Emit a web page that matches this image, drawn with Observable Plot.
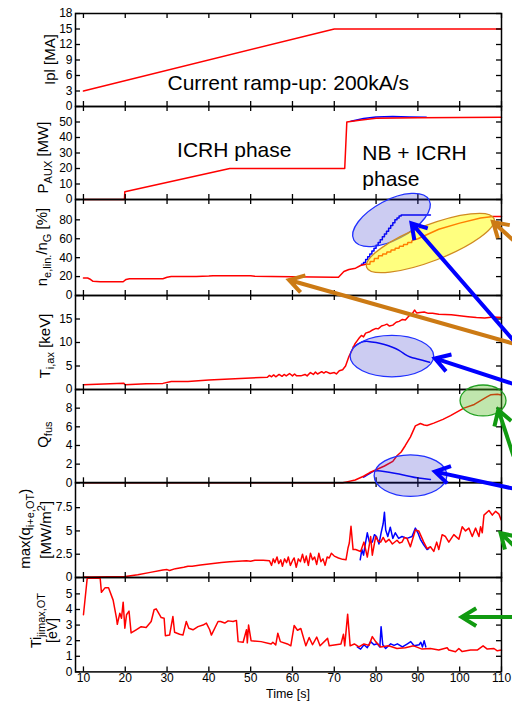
<!DOCTYPE html>
<html><head><meta charset="utf-8">
<script src="https://cdn.jsdelivr.net/npm/d3@7"></script>
<script src="https://cdn.jsdelivr.net/npm/@observablehq/plot@0.6"></script>
<style>
body{margin:0;background:#fff;}
#fig{position:relative;width:512px;height:706px;overflow:hidden;font-family:"Liberation Sans",Arial,sans-serif;background:#fff;}
</style></head><body><div id="fig"></div><script>
// ---------------- DATA ----------------
const xTicks = [10,20,30,40,50,60,70,80,90,100,110];

// Panel 1: plasma current
const ipTicks = [0,3,6,9,12,15,18];
const ipTime = [10, 70, 110];
const ipVal  = [3, 15, 15];

// Panel 2: auxiliary power
const pauxTicks = [0,10,20,30,40,50];
const pauxTime = [10, 19.8, 19.9, 45, 72.5, 73, 76, 80, 90, 110];
const pauxVal  = [0, 0, 5, 20, 20, 50, 51.2, 52.4, 52.8, 53];
const pauxBlueTime = [74, 77, 80, 84, 88, 92];
const pauxBlueVal  = [50.5, 52.3, 53.3, 53.5, 53.3, 53];

// Panel 3: Greenwald fraction
const neTicks = [0,20,40,60,80];
const neTime = [10, 11, 11.5, 12.3, 14, 19.5, 20.2, 21, 29, 30, 31, 37, 40, 41, 50, 51, 55, 60, 65, 70, 71, 72.3, 73.5, 75.1, 76.3, 77.5,
  78.5, 78.6, 79.5, 79.6, 80.5, 80.6, 81.5, 81.6, 82.5, 82.6, 83.5, 83.6, 84.5, 84.6, 85.5, 85.6, 86.5, 86.6, 87.5, 87.6, 88.5, 88.6, 90, 95, 100, 105, 108, 110];
const neVal  = [18.5, 18.5, 17.5, 15, 14.5, 14.5, 17, 17.8, 17.8, 19.3, 20.2, 20, 20.5, 21, 20.8, 20.3, 20, 19.8, 19.5, 19.2, 19.4, 25.4, 27.5, 28.9, 31.7, 33,
  33, 36, 36, 39, 39, 42, 42, 44, 44, 46, 46, 48, 48, 50, 50, 52, 52, 54, 54, 56, 56, 58, 60, 70, 76.5, 82, 83.5, 83.5];
const neBlueTime = [76.5, 77, 77.5, 78, 78.5, 79, 79.5, 80, 80.5, 81, 81.5, 82, 82.5, 83, 83.5, 84, 84.5, 85, 85.5, 86, 93];
const neBlueVal  = [33, 35, 38, 41, 44, 47, 50, 53, 56, 59, 62, 65, 68, 71, 74, 77, 80, 82, 84, 85, 85];

// Panel 4: axial ion temperature
const tiTicks = [0,5,10,15];
const tiTime = [10, 19.6, 20, 25, 29, 31, 35, 40, 45, 50, 54, 54.5, 55, 55.5, 56, 56.8, 57.5, 58, 58.5, 59.3, 60, 60.5, 61, 62, 63, 63.5, 64.3, 65, 65.5, 66, 67, 67.5, 68, 69, 70, 70.5, 71.2, 72, 72.7, 73.5, 74.3, 75, 75.5, 76, 76.5, 77, 77.5, 78.5, 79, 80, 80.5, 81.3, 82, 82.6, 83.2, 84, 84.8, 85.5, 86.3, 87, 87.8, 88.5, 89.2, 89.7, 90.5, 91.5, 92.5, 93.5, 95, 98, 100, 102, 104, 106, 108, 110];
const tiVal  = [1.0, 1.35, 1.0, 1.2, 1.3, 1.7, 1.7, 2.0, 2.25, 2.45, 2.6, 3.0, 2.7, 3.1, 2.7, 3.2, 2.8, 3.2, 2.9, 3.4, 2.9, 3.3, 2.9, 2.9, 3.2, 2.9, 3.6, 3.2, 3.7, 3.3, 3.8, 3.5, 3.8, 3.4, 3.6, 3.3, 4.0, 4.2, 5.0, 7.0, 8.5, 9.8, 10.4, 11.0, 11.5, 11.2, 12.0, 12.3, 12.6, 13.0, 12.9, 13.5, 13.7, 13.9, 13.5, 13.7, 14.3, 14.5, 14.9, 14.8, 15.6, 15.9, 16.9, 16.3, 16.4, 16.5, 16.2, 16.2, 16.0, 15.9, 15.7, 15.5, 15.3, 15.2, 15.4, 15.3];
const tiBlueTime = [74.5, 76.5, 78, 80, 82, 84, 85.5, 87, 88, 90, 92.8];
const tiBlueVal  = [9.0, 10.2, 10.3, 10.0, 9.6, 9.0, 8.4, 7.4, 6.9, 6.5, 5.8];

// Panel 5: fusion gain
const qTicks = [0,2,4,6,8];
const qTime = [10, 72, 73, 75, 77, 78.5, 80, 82, 84, 85, 86, 87, 88.2, 89.4, 90.6, 91.5, 92.2, 93.8, 96, 97.8, 101, 103.5, 105, 106.5, 107.5, 109, 110];
const qVal  = [0, 0, 0.1, 0.3, 0.7, 1.1, 1.4, 1.8, 2.3, 2.9, 3.3, 4.0, 4.9, 6.1, 6.35, 6.2, 6.15, 6.4, 6.8, 7.2, 8.0, 8.4, 8.8, 9.2, 9.45, 9.5, 9.4];
const qBlueTime = [77, 78.5, 79.5, 81, 83, 85.5, 88, 90, 93];
const qBlueVal  = [0.6, 1.0, 1.3, 1.3, 1.15, 0.95, 0.7, 0.5, 0.35];

// Panel 6: max divertor heat flux
const qdTicks = [0,2.5,5,7.5];
const qdTime = [10, 12, 20, 23, 26, 29, 30, 30.6, 32, 34, 35, 36, 38, 41, 43, 45, 47, 49, 50, 51, 53, 54.5, 55, 55.4, 55.8, 56.3, 56.7, 57.2, 57.6, 58.1, 58.6, 59, 59.5, 60, 60.4, 60.9, 61.4, 61.9, 62.4, 62.9, 63.3, 63.8, 64.3, 64.8, 65.3, 65.8, 66.3, 66.8, 67.3, 67.8, 68.3, 68.8, 69.3, 70, 71, 72, 72.8, 73.3, 73.6, 74, 74.5, 75.1, 76.3, 77.1, 77.9, 78.7, 79.1, 79.9, 80.5, 81.1, 81.7, 82.3, 83.1, 83.9, 85, 85.6, 86.2, 86.8, 87.4, 88.2, 89.4, 90.2, 91.4, 92.2, 93, 93.8, 94.5, 95, 95.8, 96.6, 97.4, 98.6, 99.8, 100.6, 101.4, 102.2, 103, 103.8, 104.6, 105, 105.4, 105.8, 107, 107.8, 108.6, 109.4, 109.9];
const qdVal  = [0.05, 0.05, 0.1, 0.3, 0.55, 0.8, 0.85, 0.75, 0.95, 1.1, 1.2, 1.2, 1.35, 1.5, 1.6, 1.7, 1.75, 1.8, 1.75, 1.85, 1.85, 1.8, 1.3, 2.0, 1.6, 2.2, 1.5, 1.9, 1.2, 2.0, 1.6, 2.2, 1.3, 1.8, 2.1, 1.1, 2.0, 1.7, 2.5, 1.6, 2.3, 1.3, 2.6, 1.9, 2.2, 1.4, 2.6, 1.7, 2.0, 1.3, 2.2, 2.1, 2.6, 2.3, 2.1, 1.95, 1.9, 3.2, 3.7, 5.5, 3.0, 3.0, 2.8, 3.8, 2.2, 4.4, 2.4, 4.4, 3.9, 3.8, 4.3, 3.8, 4.1, 3.6, 4.0, 3.7, 3.8, 4.3, 4.2, 3.3, 5.1, 5.0, 3.8, 3.1, 3.3, 2.8, 3.8, 3.0, 4.6, 4.4, 3.8, 4.6, 4.1, 5.45, 5.0, 5.3, 4.4, 5.3, 4.4, 5.45, 4.8, 6.7, 7.2, 6.7, 7.1, 6.8, 6.2];
const qdBlueTime = [76.2, 76.6, 77.0, 77.3, 77.9, 78.4, 79.1, 79.6, 80.1, 80.7, 81.2, 81.7, 82, 82.3, 82.8, 83.4, 84, 84.6, 85.4, 86.2, 87.4, 88.6, 89.4, 90, 90.6, 91.4, 92.2, 92.6];
const qdBlueVal  = [1.9, 3.0, 2.4, 3.3, 4.8, 3.8, 3.8, 4.6, 4.4, 3.6, 4.8, 5.8, 7.0, 5.1, 4.4, 5.4, 4.2, 4.8, 4.2, 4.4, 4.2, 4.4, 5.3, 4.8, 4.1, 3.5, 3.0, 3.1];

// Panel 7: target ion temperature at jmax
const tjTicks = [0,1,2,3,4,5];
const tjTime = [10, 10.9, 14, 14.3, 15.2, 16.0, 17.1, 17.9, 18.1, 18.7, 19.1, 19.5, 19.9, 20.3, 20.9, 21.4, 22.6, 23.8, 25, 26.2, 26.9, 27.4, 28.6, 29.3, 29.6, 30.6, 31.4, 31.8, 33, 33.8, 34.6, 35.2, 36.2, 37.4, 38.6, 39.4, 40.2, 40.6, 42.2, 42.8, 43.8, 44.6, 45.8, 46.6, 47, 48.2, 49, 49.2, 49.5, 50.1, 52.5, 54.9, 55.3, 56, 56.5, 57.1, 58.8, 59.6, 60.4, 61.2, 62, 63.2, 64, 64.8, 65.8, 66.6, 68.4, 68.8, 71.6, 72.2, 72.5, 73.2, 73.8, 74.8, 75.9, 77.1, 78.3, 79.1, 79.9, 81.1, 83, 85, 87, 89, 91, 93, 95, 97, 97.4, 99, 99.8, 100.6, 102.6, 104.2, 105.6, 106.6, 108.2, 109, 110];
const tjVal  = [3.66, 6.0, 6.0, 5.1, 5.4, 5.4, 4.6, 3.44, 3.05, 3.76, 3.44, 4.47, 2.8, 3.66, 3.9, 2.5, 2.7, 2.9, 2.84, 3.23, 3.98, 4.04, 3.48, 3.44, 2.32, 2.36, 3.55, 2.54, 2.41, 2.36, 3.23, 2.8, 2.7, 2.9, 3.0, 3.13, 2.7, 2.36, 3.23, 3.23, 3.13, 3.27, 3.23, 3.3, 1.94, 1.9, 2.7, 1.86, 3.0, 2.0, 1.94, 1.79, 1.9, 1.73, 2.48, 1.94, 1.79, 1.67, 2.97, 2.67, 2.78, 1.67, 2.2, 1.74, 2.23, 1.67, 2.15, 1.67, 1.79, 2.41, 1.67, 3.7, 1.67, 1.79, 1.6, 1.79, 1.7, 2.26, 1.94, 1.6, 1.67, 1.5, 1.55, 1.67, 1.46, 1.5, 1.4, 1.55, 1.4, 1.29, 1.5, 1.3, 1.4, 1.4, 1.67, 1.46, 1.5, 1.35, 1.4];
const tjBlueTime = [75.5, 76.3, 77.1, 77.9, 78.7, 79.5, 80.3, 80.9, 81.2, 81.6, 82.3, 83.5, 84.3, 85.1, 86.3, 87.5, 88.3, 89.1, 90.3, 90.7, 91.1, 91.5, 91.9];
const tjBlueVal  = [1.6, 1.46, 1.74, 1.55, 1.94, 1.74, 1.8, 1.6, 2.9, 1.74, 1.5, 1.8, 1.7, 1.8, 1.6, 1.8, 1.94, 1.67, 1.74, 1.9, 1.6, 2.0, 1.6];

// Texts
const yLabels = [
  [[["Ipl [MA]"]]],
  [[["P"],["AUX","sub"],[" [MW]"]]],
  [[["n"],["e,lin.","sub"],["/n"],["G","sub"],[" [%]"]]],
  [[["T"],["i,ax","sub"],[" [keV]"]]],
  [[["Q"],["fus","sub"]]],
  [[["max(q"],["i+e,OT","sub"],[")"]], [["[MW/m"],["2","sup"],["]"]]],
  [[["Ti"],["jimax,OT","sub"]], [["[eV]"]]]
];
const xLabel = "Time [s]";
const noteText  = ["Current ramp-up: 200kA/s", "ICRH phase", "NB + ICRH", "phase"];
const notePanel = [0, 1, 1, 1];
const noteTime  = [30.1, 32.4, 76.7, 76.7];
const noteVal   = [4.5, 32, 30, 12.9];

// Annotation ellipses (data units)
const ellKind  = ["blue", "yellow", "blue", "blue", "green"];
const ellPanel = [2, 2, 3, 4, 4];
const ellTime  = [83.8, 93.1, 83.9, 88.35, 105.7];
const ellVal   = [79.3, 55, 7.0, 0.72, 8.77];
const ellRT    = [10.2, 16.3, 10.0, 8.7, 5.5];
const ellRV    = [21, 19, 4.4, 2.23, 1.66];
const ellRot   = [-28, -21, 0, 0, 0];

// Annotation arrows (head -> tail, data units)
const arrKind      = ["orange", "orange", "blue", "blue", "blue", "green", "green", "green"];
const arrHeadPanel = [2, 2, 2, 3, 4, 4, 5, 6];
const arrHeadTime  = [59.3, 108.1, 88.6, 94.2, 94.2, 109.35, 109.9, 100.6];
const arrHeadVal   = [15.9, 77.2, 75.8, 6.5, 1.14, 7.75, 4.74, 3.5];
const arrTailPanel = [3, 2, 3, 3, 4, 4, 5, 6];
const arrTailTime  = [112.8, 113.4, 113.4, 113.4, 113.4, 113, 113.6, 114];
const arrTailVal   = [9.7, 56, 9.9, 0.95, -0.72, 2.8, 3.16, 3.5];

// ---------------- LAYOUT / STYLE ----------------
const FONT = '"Liberation Sans", Arial, Helvetica, sans-serif';
const RED = "#ff0000", BLUE = "#0000ff";
const W = 512, ML = 75, MR = 11, PAD = 8;
const X_DOMAIN = [8.1, 110];
const colors = {
  blue:   {fill: "rgba(40,40,200,0.24)", stroke: "#2030ff"},
  yellow: {fill: "rgba(255,255,0,0.5)", stroke: "#d08a20"},
  green:  {fill: "rgba(90,190,40,0.38)", stroke: "#22a022"},
  orange: "#cc7a14", arrowBlue: "#0000ff", arrowGreen: "#119a11"
};

const panels = [
  {top: 13,    bottom: 106,   domain: [0, 18], ticks: ipTicks,   lines: [[ipTime, ipVal, RED]]},
  {top: 106,   bottom: 199,   domain: [0, 60], ticks: pauxTicks, lines: [[pauxBlueTime, pauxBlueVal, BLUE], [pauxTime, pauxVal, RED]]},
  {top: 199,   bottom: 295,   domain: [0, 101.5], ticks: neTicks, lines: [[neBlueTime, neBlueVal, BLUE, "step-after"], [neTime, neVal, RED]]},
  {top: 295,   bottom: 389,   domain: [0, 20], ticks: tiTicks,   lines: [[tiBlueTime, tiBlueVal, BLUE, "basis"], [tiTime, tiVal, RED]]},
  {top: 389,   bottom: 482.3, domain: [0, 10], ticks: qTicks,    lines: [[qBlueTime, qBlueVal, BLUE, "basis"], [qTime, qVal, RED]]},
  {top: 482.3, bottom: 577.3, domain: [0, 10.2], ticks: qdTicks, lines: [[qdBlueTime, qdBlueVal, BLUE], [qdTime, qdVal, RED]]},
  {top: 577.3, bottom: 671.7, domain: [0, 6.05], ticks: tjTicks, lines: [[tjBlueTime, tjBlueVal, BLUE], [tjTime, tjVal, RED]]}
];

const fig = document.getElementById("fig");
const innerW = W - ML - MR;

const charts = panels.map((p, i) => {
  const last = i === panels.length - 1;
  const h = p.bottom - p.top;
  const mb = last ? 40 : PAD;
  const marks = [];
  for (const [t, v, color, curve] of p.lines) {
    marks.push(Plot.line(d3.zip(t, v), {x: d => d[0], y: d => d[1], stroke: color, strokeWidth: 1.5, curve: curve || "linear"}));
  }
  const notes = noteText.map((s, k) => ({s, t: noteTime[k], v: noteVal[k], panel: notePanel[k]})).filter(d => d.panel === i);
  if (notes.length) marks.push(Plot.text(notes, {x: d => d.t, y: d => d.v, text: d => d.s, textAnchor: "start", fontSize: 21, fill: "black"}));
  const tk = {stroke: "black", strokeWidth: 1.3};
  marks.push(Plot.ruleY(p.ticks, {y: d => d, insetRight: innerW - 5, ...tk}));
  marks.push(Plot.ruleY(p.ticks, {y: d => d, insetLeft: innerW - 5, ...tk}));
  marks.push(Plot.ruleX(xTicks, {x: d => d, insetBottom: h - 5, ...tk}));
  marks.push(Plot.ruleX(xTicks, {x: d => d, insetTop: h - 5, ...tk}));
  marks.push(Plot.frame({stroke: "black", strokeWidth: 1.5}));
  marks.push(Plot.axisY(p.ticks, {anchor: "left", tickSize: 0, tickPadding: 3, fontSize: 12, tickFormat: d => String(d), label: null}));
  if (last) marks.push(Plot.axisX(xTicks, {anchor: "bottom", tickSize: 0, tickPadding: 2, fontSize: 12, tickFormat: d => String(d), label: null}));
  const chart = Plot.plot({
    width: W, height: h + PAD + mb,
    marginLeft: ML, marginRight: MR, marginTop: PAD, marginBottom: mb,
    x: last ? {domain: X_DOMAIN} : {domain: X_DOMAIN, axis: null},
    y: {domain: p.domain, label: null},
    style: {background: "transparent", overflow: "visible", fontFamily: FONT, color: "black"},
    marks
  });
  chart.style.position = "absolute";
  chart.style.left = "0px";
  chart.style.top = (p.top - PAD) + "px";
  fig.appendChild(chart);
  return {sx: chart.scale("x").apply, sy: chart.scale("y").apply, top: p.top - PAD};
});

function pos(panel, t, v) {
  const c = charts[panel];
  return [c.sx(t), c.top + c.sy(v)];
}

// ---------------- OVERLAY ----------------
const ov = d3.create("svg").attr("width", W).attr("height", 706)
  .style("position", "absolute").style("left", "0px").style("top", "0px")
  .attr("font-family", FONT);

// y labels
const yLabelX = [[55], [48], [47], [50], [48], [30, 51], [41, 57]];
const yLabelDy = [[0], [5], [0], [4], [-1], [-1, 0], [-4, 6]];
yLabels.forEach((lines, i) => {
  const p = panels[i];
  const cy = (p.top + p.bottom) / 2;
  lines.forEach((parts, j) => {
    const x = yLabelX[i][j], y = cy + yLabelDy[i][j];
    const fs = i === 6 ? 14 : 15;
    const text = ov.append("text").attr("transform", `translate(${x},${y}) rotate(-90)`)
      .attr("text-anchor", "middle").attr("font-size", fs).attr("fill", "black");
    let shift = 0;
    parts.forEach(([s, mode]) => {
      const target = mode === "sub" ? 4 : mode === "sup" ? -6 : 0;
      text.append("tspan").attr("dy", target - shift).attr("font-size", mode ? 11 : fs).text(s);
      shift = target;
    });
  });
});

// x label
{
  const c = charts[0];
  const cx = (c.sx(X_DOMAIN[0]) + c.sx(X_DOMAIN[1])) / 2;
  ov.append("text").attr("x", cx).attr("y", 698).attr("text-anchor", "middle")
    .attr("font-size", 12.5).attr("fill", "black").text(xLabel);
}

// ellipses
ellKind.forEach((k, i) => {
  const [cx, cy] = pos(ellPanel[i], ellTime[i], ellVal[i]);
  const c = charts[ellPanel[i]];
  const rx = Math.abs(c.sx(ellTime[i] + ellRT[i]) - c.sx(ellTime[i]));
  const ry = Math.abs(c.sy(ellVal[i] + ellRV[i]) - c.sy(ellVal[i]));
  ov.append("ellipse").attr("cx", cx).attr("cy", cy).attr("rx", rx).attr("ry", ry)
    .attr("transform", `rotate(${ellRot[i]},${cx},${cy})`)
    .attr("fill", colors[k].fill).attr("stroke", colors[k].stroke).attr("stroke-width", 1.3);
});

// arrows
arrKind.forEach((k, i) => {
  const [hx, hy] = pos(arrHeadPanel[i], arrHeadTime[i], arrHeadVal[i]);
  const [tx, ty] = pos(arrTailPanel[i], arrTailTime[i], arrTailVal[i]);
  const col = k === "orange" ? colors.orange : k === "blue" ? colors.arrowBlue : colors.arrowGreen;
  const a = Math.atan2(hy - ty, hx - tx), L = 17, wing = 0.55;
  const w1 = [hx - L * Math.cos(a - wing), hy - L * Math.sin(a - wing)];
  const w2 = [hx - L * Math.cos(a + wing), hy - L * Math.sin(a + wing)];
  ov.append("path")
    .attr("d", `M${tx},${ty}L${hx},${hy}M${w1[0]},${w1[1]}L${hx},${hy}L${w2[0]},${w2[1]}`)
    .attr("fill", "none").attr("stroke", col).attr("stroke-width", 4)
    .attr("stroke-linejoin", "miter").attr("stroke-linecap", "butt");
});

fig.appendChild(ov.node());
</script></body></html>
